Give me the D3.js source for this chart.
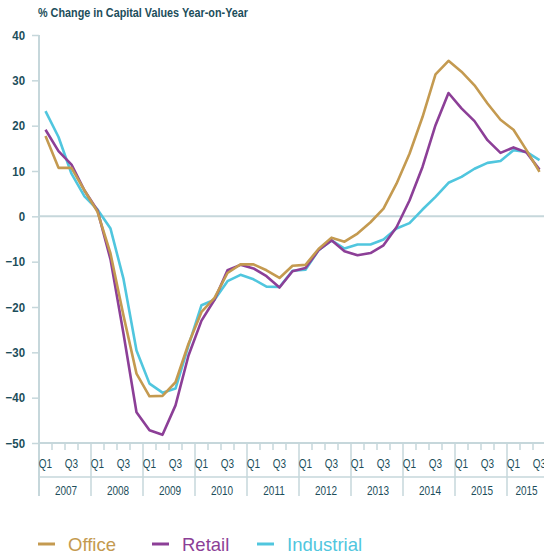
<!DOCTYPE html>
<html>
<head>
<meta charset="utf-8">
<script src="https://cdn.jsdelivr.net/npm/d3@7"></script>
<style>
  body { margin: 0; background: #fff; }
  text { font-family: "Liberation Sans", Arial, sans-serif; }
</style>
</head>
<body>
<script>
const years = ["2007", "2008", "2009", "2010", "2011", "2012", "2013", "2014", "2015", "2015"];
const quarterNames = ["Q1", "Q2", "Q3", "Q4"];
const yTicks = [40, 30, 20, 10, 0, -10, -20, -30, -40, -50];

const office = [17.7, 10.7, 10.7, 5.7, 1.0, -8.2, -21.9, -34.7, -39.7, -39.6, -36.6, -28.1, -21.1, -18.0, -12.5, -10.6, -10.6, -11.9, -13.6, -10.9, -10.7, -7.2, -4.7, -5.6, -3.8, -1.3, 1.7, 7.2, 13.8, 21.9, 31.3, 34.3, 31.9, 28.9, 24.9, 21.3, 19.1, 14.6, 9.8];
const retail = [19.1, 14.4, 11.4, 5.7, 1.3, -9.5, -25.9, -43.2, -47.2, -48.2, -41.7, -30.7, -23.0, -18.4, -11.9, -10.7, -11.5, -13.2, -15.7, -12.1, -11.4, -7.5, -5.3, -7.7, -8.6, -8.1, -6.4, -2.4, 3.5, 10.9, 20.1, 27.2, 23.8, 21.0, 16.8, 14.0, 15.2, 14.1, 10.3];
const industrial = [23.2, 17.5, 9.4, 4.4, 1.5, -2.7, -13.8, -29.6, -36.9, -38.9, -38.0, -28.5, -19.6, -18.4, -14.3, -12.9, -13.9, -15.5, -15.6, -12.0, -11.8, -7.5, -5.3, -7.1, -6.2, -6.2, -5.1, -2.7, -1.5, 1.5, 4.3, 7.4, 8.7, 10.5, 11.8, 12.2, 14.6, 14.2, 12.4];

const seriesNames = ["Office", "Retail", "Industrial"];
const colors = { Office: "#c49a50", Retail: "#8c3f97", Industrial: "#50c6de" };

var axisColor = "#c6d7db";
var textColor = "#1c4e5b";

const w = 544, h = 556;
const plotLeft = 39, plotTop = 35, plotBottom = 443;
const narrow = 0.8; // the original uses a condensed face, squeeze the axis text

// one slot per quarter, 2007 Q1 .. 2016 Q4 (last one runs off the page)
var quarters = [];
years.forEach((yr, yi) => {
    quarterNames.forEach((q, qi) => quarters.push({ key: yi + "-" + qi, year: yi, q: q }));
});

const x = d3.scaleBand()
    .domain(quarters.map(d => d.key))
    .range([plotLeft, plotLeft + 13 * quarters.length])
    .padding(0);
const y = d3.scaleLinear().domain([-50, 40]).range([plotBottom, plotTop]);

const svg = d3.select("body").append("svg")
    .attr("width", w)
    .attr("height", h);

svg.append("text")
    .attr("x", 38)
    .attr("y", 17)
    .attr("fill", textColor)
    .attr("font-size", 12.5)
    .attr("font-weight", "bold")
    .attr("textLength", 210)
    .attr("lengthAdjust", "spacingAndGlyphs")
    .text("% Change in Capital Values Year-on-Year");

// y axis
const yAxis = svg.append("g")
    .attr("transform", `translate(${plotLeft},0)`)
    .call(d3.axisLeft(y).tickValues(yTicks).tickSize(7).tickPadding(7));
yAxis.select(".domain").remove();
yAxis.selectAll("line").attr("stroke", axisColor).attr("stroke-width", 1.5);
yAxis.selectAll("text")
    .attr("x", -14 / 0.88)
    .attr("transform", "scale(0.88,1)")
    .attr("fill", textColor)
    .attr("font-size", 13)
    .attr("font-weight", "bold");

svg.append("line")
    .attr("x1", plotLeft).attr("x2", plotLeft)
    .attr("y1", plotTop).attr("y2", 496)
    .attr("stroke", axisColor).attr("stroke-width", 2);

// zero line and x axis lines
svg.append("line")
    .attr("x1", plotLeft).attr("x2", w)
    .attr("y1", y(0)).attr("y2", y(0))
    .attr("stroke", axisColor).attr("stroke-width", 2);
svg.append("line")
    .attr("x1", plotLeft).attr("x2", w)
    .attr("y1", plotBottom).attr("y2", plotBottom)
    .attr("stroke", axisColor).attr("stroke-width", 2);
svg.append("line")
    .attr("x1", plotLeft).attr("x2", w)
    .attr("y1", 477).attr("y2", 477)
    .attr("stroke", axisColor).attr("stroke-width", 1.5);

// quarter ticks and year separators
svg.selectAll(".qtick")
    .data(quarters)
    .enter()
    .append("line")
    .attr("x1", d => x(d.key)).attr("x2", d => x(d.key))
    .attr("y1", plotBottom)
    .attr("y2", d => d.q == "Q1" ? 496 : 450)
    .attr("stroke", axisColor)
    .attr("stroke-width", 1.5);

svg.selectAll(".qlabel")
    .data(quarters.filter(d => d.q == "Q1" || d.q == "Q3"))
    .enter()
    .append("text")
    .attr("transform", d => `translate(${x(d.key) + x.bandwidth() / 2},468) scale(${narrow},1)`)
    .attr("text-anchor", "middle")
    .attr("fill", textColor)
    .attr("font-size", 12.5)
    .text(d => d.q);

svg.selectAll(".ylabel")
    .data(years)
    .enter()
    .append("text")
    .attr("transform", (d, i) => {
        var x0 = x(i + "-0");
        var x1 = Math.min(x0 + 4 * x.bandwidth(), w);
        return `translate(${(x0 + x1) / 2 + 1},495) scale(${narrow},1)`;
    })
    .attr("text-anchor", "middle")
    .attr("fill", textColor)
    .attr("font-size", 12.5)
    .text(d => d);

// lines
const values = { Office: office, Retail: retail, Industrial: industrial };
const line = d3.line()
    .x((d, i) => x(quarters[i].key) + x.bandwidth() / 2)
    .y(d => y(d));

["Industrial", "Retail", "Office"].forEach(name => {
    svg.append("path")
        .datum(values[name])
        .attr("fill", "none")
        .attr("stroke", colors[name])
        .attr("stroke-width", 2.6)
        .attr("stroke-linejoin", "round")
        .attr("d", line);
});

// legend
const legendX = [38, 152, 257];
const legend = svg.selectAll(".legend")
    .data(seriesNames)
    .enter()
    .append("g")
    .attr("transform", (d, i) => `translate(${legendX[i]},544)`);
legend.append("line")
    .attr("x1", 0).attr("x2", 17)
    .attr("stroke", d => colors[d])
    .attr("stroke-width", 3);
legend.append("text")
    .attr("x", 30)
    .attr("y", 6.5)
    .attr("fill", d => colors[d])
    .attr("font-size", 18.5)
    .text(d => d);
</script>
</body>
</html>
